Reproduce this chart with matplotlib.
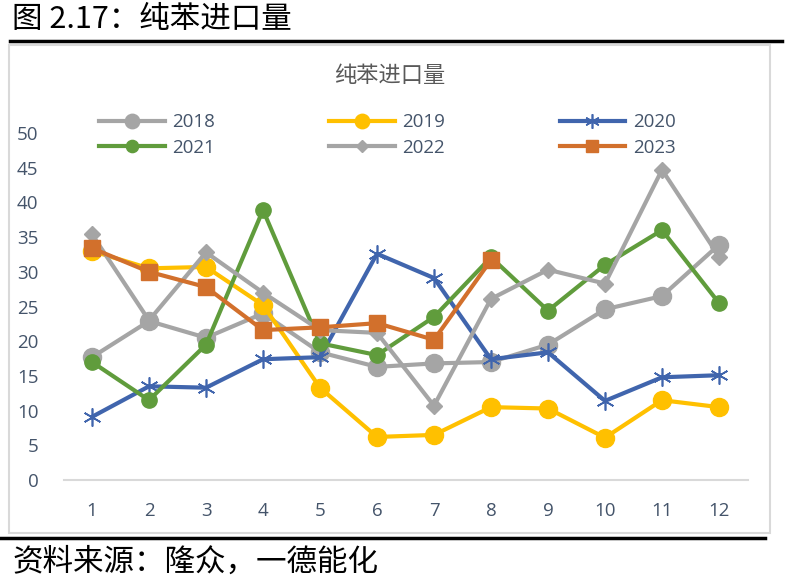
import matplotlib
matplotlib.use("Agg")
import matplotlib.pyplot as plt
from matplotlib.lines import Line2D
from matplotlib.patches import Rectangle

plt.rcParams['font.family'] = ['Noto Sans CJK SC', 'DejaVu Sans']

# ── Data (monthly benzene imports) ─────────────────────────────
months = [1, 2, 3, 4, 5, 6, 7, 8, 9, 10, 11, 12]
y2018 = [17.7, 22.9, 20.5, 24.0, 18.4, 16.3, 16.8, 17.0, 19.5, 24.6, 26.5, 33.9]
y2019 = [33.0, 30.5, 30.7, 25.2, 13.3, 6.2, 6.5, 10.5, 10.3, 6.1, 11.5, 10.5]
y2020 = [9.1, 13.5, 13.3, 17.4, 17.7, 32.6, 29.1, 17.4, 18.4, 11.4, 14.8, 15.1]
y2021 = [17.0, 11.5, 19.5, 38.9, 19.7, 18.0, 23.5, 32.1, 24.4, 31.0, 36.0, 25.5]
y2022 = [35.4, 23.0, 32.8, 27.0, 21.6, 21.2, 10.7, 26.1, 30.3, 28.3, 44.7, 32.2]
m2023 = [1, 2, 3, 4, 5, 6, 7, 8]
y2023 = [33.4, 30.0, 27.8, 21.6, 22.0, 22.6, 20.2, 31.7]

yticks = [0, 5, 10, 15, 20, 25, 30, 35, 40, 45, 50]

TEXT = '#44546A'

fig = plt.figure(figsize=(7.85, 5.84), dpi=100)
fig.patch.set_facecolor('white')

# ── Frame & header / footer ───────────────────────────────────
fig.add_artist(Rectangle((9 / 785, 1 - 533 / 584), 761 / 785, 488 / 584,
                         transform=fig.transFigure, fill=False,
                         edgecolor='#D9D9D9', linewidth=1.5))
fig.add_artist(Line2D([10 / 785, 782 / 785], [1 - 41 / 584] * 2,
                      transform=fig.transFigure, color='black', linewidth=2.5))
fig.add_artist(Line2D([0, 765 / 785], [1 - 538 / 584] * 2,
                      transform=fig.transFigure, color='black', linewidth=2.5))
fig.text(12 / 785, 1 - 19 / 584, '图 2.17：纯苯进口量', fontsize=22,
         ha='left', va='center', color='black')
fig.text(12 / 785, 1 - 562 / 584, '资料来源：隆众，一德能化', fontsize=22,
         ha='left', va='center', color='black')
fig.text(390 / 785, 1 - 76 / 584, '纯苯进口量', fontsize=16,
         ha='center', va='center', color='#595959')

# ── Axes ───────────────────────────────────────────────────────
ax = fig.add_axes([63.5 / 785, 1 - 480 / 584, 684 / 785, 347 / 584])
ax.set_xlim(0.5, 12.5)
ax.set_ylim(0, 50)

lw = 3.0
ax.plot(months, y2018, color='#A5A5A5', lw=lw, marker='o', ms=13,
        label='2018', zorder=2, clip_on=False)
ax.plot(months, y2019, color='#FFC000', lw=lw, marker='o', ms=13,
        label='2019', zorder=3, clip_on=False)
ax.plot(months, y2020, color='#4065AD', lw=lw, marker=(6, 2, 0), ms=13,
        mew=1.2, label='2020', zorder=4, clip_on=False)
ax.plot(months, y2021, color='#609C3C', lw=lw, marker='o', ms=11,
        label='2021', zorder=5, clip_on=False)
ax.plot(months, y2022, color='#A5A5A5', lw=lw, marker='D', ms=8,
        label='2022', zorder=6, clip_on=False)
ax.plot(m2023, y2023, color='#D2702C', lw=lw, marker='s', ms=11,
        label='2023', zorder=7, clip_on=False)

ax.set_xticks(months)
ax.set_yticks(yticks)
ax.tick_params(length=0, labelsize=13.5, colors=TEXT)
ax.tick_params(axis='x', pad=16)
ax.tick_params(axis='y', pad=18)
for lab in ax.get_xticklabels() + ax.get_yticklabels():
    lab.set_family(['Open Sans', 'DejaVu Sans'])
for s in ['top', 'right', 'left']:
    ax.spines[s].set_visible(False)
ax.spines['bottom'].set_color('#D9D9D9')
ax.spines['bottom'].set_linewidth(1.5)

# legend: row order 2018 2019 2020 / 2021 2022 2023
h, l = ax.get_legend_handles_labels()
order = [0, 3, 1, 4, 2, 5]
leg = fig.legend([h[i] for i in order], [l[i] for i in order],
                 ncol=3, loc='center left',
                 bbox_to_anchor=(82 / 785, 1 - 135 / 584),
                 frameon=False, handlelength=3.5, handletextpad=0.4,
                 columnspacing=6.1, labelspacing=0.4, markerscale=0.8,
                 prop={'family': ['Open Sans', 'DejaVu Sans'], 'size': 13.5})
for t in leg.get_texts():
    t.set_color(TEXT)

fig.savefig('out.png', dpi=100, facecolor='white')
